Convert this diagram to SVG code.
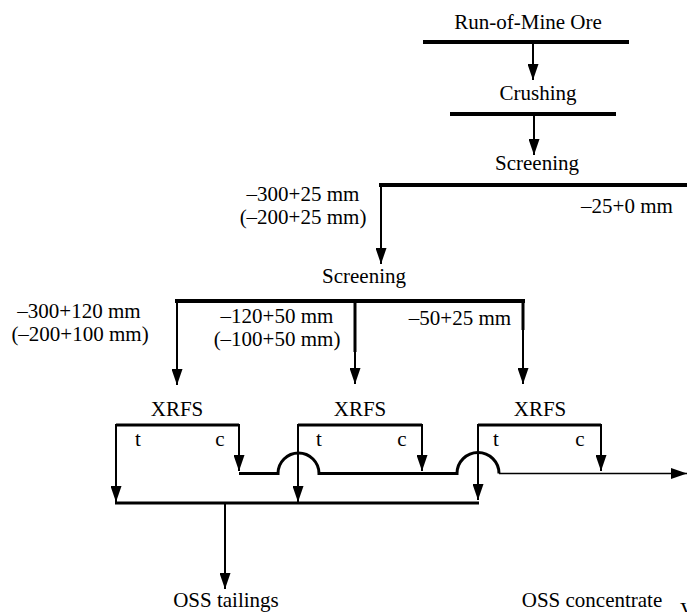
<svg xmlns="http://www.w3.org/2000/svg" width="687" height="612" viewBox="0 0 687 612">
<defs>
<marker id="ah" markerUnits="userSpaceOnUse" markerWidth="16" markerHeight="11" refX="16" refY="5.5" orient="auto">
<path d="M0,0 L16,5.5 L0,11 Z" fill="#000"/>
</marker>
<style>
text{font-family:"Liberation Serif","Times New Roman",serif;font-size:21px;fill:#000}
.bar{stroke:#000;stroke-width:4;fill:none}
.box{stroke:#000;stroke-width:3;fill:none}
.ln{stroke:#000;stroke-width:2;fill:none}
.thin{stroke:#000;stroke-width:1.4;fill:none}
.arr{marker-end:url(#ah)}
</style>
</defs>
<rect width="687" height="612" fill="#fff"/>

<g id="rom">
<line class="bar" x1="423" y1="42" x2="629" y2="42"/>
<text x="528" y="29" text-anchor="middle">Run-of-Mine Ore</text>
</g>
<g id="crushing">
<line class="bar" x1="450" y1="114" x2="616" y2="114"/>
<text x="538" y="100" text-anchor="middle">Crushing</text>
</g>
<g id="screening1">
<line class="bar" x1="379" y1="185" x2="687" y2="185"/>
<text x="537" y="170" text-anchor="middle">Screening</text>
<text x="627" y="213" text-anchor="middle">–25+0 mm</text>
</g>
<g id="screening2">
<line class="bar" x1="175" y1="301" x2="525" y2="301"/>
<text x="364" y="283" text-anchor="middle">Screening</text>
</g>
<g id="xrfs1">
<path class="box" d="M116,425 H239"/>
<text x="177" y="416" text-anchor="middle">XRFS</text>
<text x="138" y="446" text-anchor="middle">t</text>
<text x="220" y="446" text-anchor="middle">c</text>
</g>
<g id="xrfs2">
<path class="box" d="M298,425 H422"/>
<text x="360" y="416" text-anchor="middle">XRFS</text>
<text x="319" y="446" text-anchor="middle">t</text>
<text x="402" y="446" text-anchor="middle">c</text>
</g>
<g id="xrfs3">
<path class="box" d="M478,425 H601"/>
<text x="540" y="416" text-anchor="middle">XRFS</text>
<text x="496" y="446" text-anchor="middle">t</text>
<text x="580" y="446" text-anchor="middle">c</text>
</g>
<g id="labels">
<text x="303" y="201" text-anchor="middle">–300+25 mm</text>
<text x="303" y="224" text-anchor="middle">(–200+25 mm)</text>
<text x="79" y="318" text-anchor="middle">–300+120 mm</text>
<text x="80" y="341" text-anchor="middle">(–200+100 mm)</text>
<text x="277" y="323" text-anchor="middle">–120+50 mm</text>
<text x="277" y="346" text-anchor="middle">(–100+50 mm)</text>
<text x="460" y="325" text-anchor="middle">–50+25 mm</text>
</g>
<g id="outputs">
<text x="226" y="607" text-anchor="middle">OSS tailings</text>
<text x="592" y="607" text-anchor="middle">OSS concentrate</text>
<text x="680" y="617">V</text>
</g>

<g id="connectors">
<line class="ln arr" x1="533" y1="44" x2="533" y2="80"/>
<line class="ln arr" x1="534" y1="116" x2="534" y2="155"/>
<line class="ln arr" x1="381" y1="185" x2="381" y2="264"/>
<line class="ln arr" x1="177" y1="301" x2="177" y2="385"/>
<line class="ln arr" x1="355" y1="301" x2="355" y2="384"/>
<line class="box" x1="355" y1="301" x2="355" y2="352"/>
<line class="ln arr" x1="523" y1="301" x2="523" y2="384"/>
<line class="box" x1="523" y1="301" x2="523" y2="330"/>
<line class="ln arr" x1="116" y1="424" x2="116" y2="502"/>
<line class="ln arr" x1="239" y1="424" x2="239" y2="471"/>
<line class="ln arr" x1="298" y1="424" x2="298" y2="502"/>
<line class="ln arr" x1="422" y1="424" x2="422" y2="471"/>
<line class="ln arr" x1="478" y1="424" x2="478" y2="500"/>
<line class="ln arr" x1="601" y1="424" x2="601" y2="471"/>
<path class="box" d="M239,473.5 H278 A20.5,20.5 0 0 1 319,473.5 H457 A21,21 0 0 1 499,473.5"/>
<line class="thin arr" x1="499" y1="473.5" x2="687" y2="473.5"/>
<line class="box" x1="115" y1="503" x2="479" y2="503"/>
<line class="ln arr" x1="225" y1="503" x2="225" y2="589"/>
</g>
</svg>
